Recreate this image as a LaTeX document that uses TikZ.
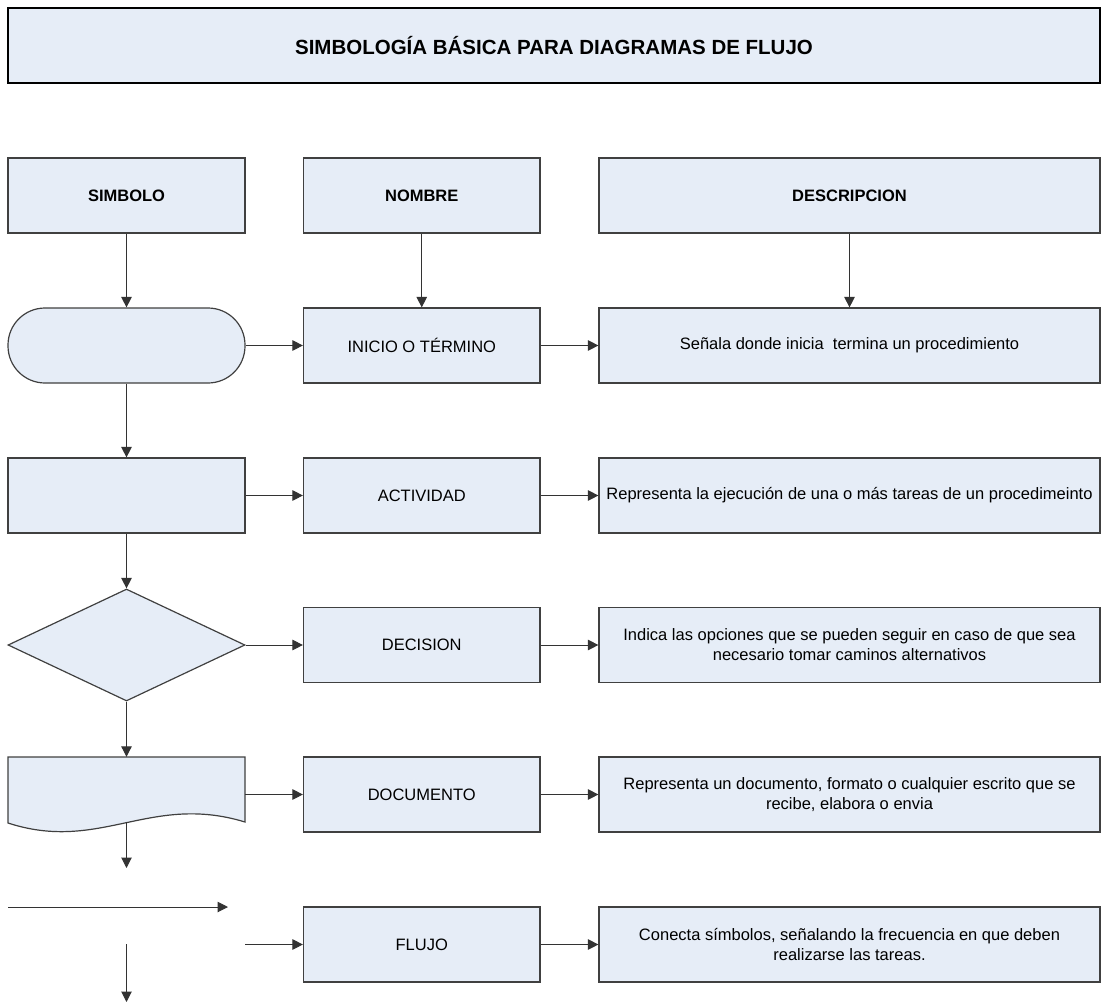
\documentclass[tikz,border=0pt]{standalone}
\usepackage{fontspec}
\setmainfont{Liberation Sans}
\usetikzlibrary{shapes.geometric,arrows.meta}
\definecolor{boxFill}{HTML}{E6EDF7}
\colorlet{boxLine}{black!75}

\begin{document}
\begin{tikzpicture}[
  x=1pt, y=-1pt,
  box/.style={draw=boxLine, fill=boxFill, line width=1.2pt, minimum height=75pt,
    inner sep=2pt, align=center, font=\fontsize{16.5}{20}\selectfont},
  head/.style={box, font=\fontsize{16.5}{20}\selectfont\bfseries},
  link/.style={line width=1pt, draw=black!80, -{Triangle[length=10.5pt,width=10.5pt]}},
]
  \useasboundingbox (0,0) rectangle (1102,1003);

  \node[box, draw=black, line width=1.8pt, minimum width=1092pt,
    font=\fontsize{20.5}{24}\selectfont\bfseries] (title) at (554,45.7)
    {SIMBOLOGÍA BÁSICA PARA DIAGRAMAS DE FLUJO};

  \node[head, minimum width=237pt] (hSimbolo) at (126.5,195.5) {SIMBOLO};
  \node[head, minimum width=236.5pt] (hNombre) at (421.75,195.5) {NOMBRE};
  \node[head, minimum width=501pt] (hDescripcion) at (849.5,195.5) {DESCRIPCION};

  \node[box, minimum width=237pt, rounded corners=37pt] (sInicio) at (126.5,345.5) {};
  \node[box, minimum width=237pt] (sActividad) at (126.5,495.5) {};
  \node[diamond, draw=boxLine, fill=boxFill, line width=1.2pt, inner sep=0pt,
    minimum width=237pt, minimum height=112pt] (sDecision) at (126.5,645) {};
  \draw[draw=boxLine, fill=boxFill, line width=1.2pt]
    (8,757) -- (245,757) -- (245,822)
    .. controls (150,793) and (100,853) .. (8,823) -- cycle;
  \node[minimum width=237pt, minimum height=65pt, inner sep=0pt] (sDocumento) at (126.5,789.5) {};

  \node[box, minimum width=236.5pt] (nInicio) at (421.75,345.5) {INICIO O TÉRMINO};
  \node[box, minimum width=236.5pt] (nActividad) at (421.75,495.5) {ACTIVIDAD};
  \node[box, minimum width=236.5pt] (nDecision) at (421.75,645) {DECISION};
  \node[box, minimum width=236.5pt] (nDocumento) at (421.75,794.5) {DOCUMENTO};
  \node[box, minimum width=236.5pt] (nFlujo) at (421.75,944.5) {FLUJO};

  \node[box, minimum width=501pt] (dInicio) at (849.5,345.5)
    {Señala donde inicia~ termina un procedimiento};
  \node[box, minimum width=501pt] (dActividad) at (849.5,495.5)
    {Representa la ejecución de una o más tareas de un procedimeinto};
  \node[box, minimum width=501pt] (dDecision) at (849.5,645)
    {Indica las opciones que se pueden seguir en caso de que sea\\necesario tomar caminos alternativos};
  \node[box, minimum width=501pt] (dDocumento) at (849.5,794.5)
    {Representa un documento, formato o cualquier escrito que se\\recibe, elabora o envia};
  \node[box, minimum width=501pt] (dFlujo) at (849.5,944.5)
    {Conecta símbolos, señalando la frecuencia en que deben\\realizarse las tareas.};

  \coordinate (docEnd) at (126.5,868);
  \coordinate (flujoA) at (8,907);
  \coordinate (flujoB) at (228,907);
  \coordinate (flujoC) at (126.5,944);
  \coordinate (flujoD) at (126.5,1002);
  \coordinate (flujoE) at (245,944.5);

  \draw[link] (hSimbolo) -- (sInicio);
  \draw[link] (hNombre) -- (nInicio);
  \draw[link] (hDescripcion) -- (dInicio);

  \draw[link] (sInicio) -- (sActividad);
  \draw[link] (sActividad) -- (sDecision);
  \draw[link] (sDecision) -- (sDocumento);
  \draw[link] (sDocumento.south) -- (docEnd);
  \draw[link] (flujoA) -- (flujoB);
  \draw[link] (flujoC) -- (flujoD);

  \draw[link] (sInicio) -- (nInicio);
  \draw[link] (sActividad) -- (nActividad);
  \draw[link] (sDecision) -- (nDecision);
  \draw[link] (nDocumento -| sDocumento.east) -- (nDocumento);
  \draw[link] (flujoE) -- (nFlujo);

  \draw[link] (nInicio) -- (dInicio);
  \draw[link] (nActividad) -- (dActividad);
  \draw[link] (nDecision) -- (dDecision);
  \draw[link] (nDocumento) -- (dDocumento);
  \draw[link] (nFlujo) -- (dFlujo);
\end{tikzpicture}
\end{document}
